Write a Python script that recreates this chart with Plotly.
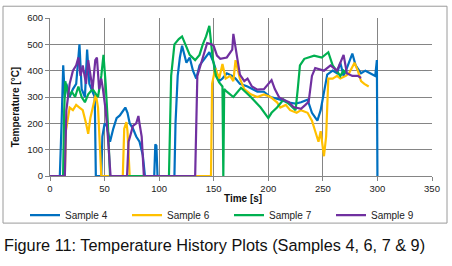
import plotly.graph_objects as go

# ---- data ----
t_s4 = [0, 9, 10.6, 12.1, 13.6, 15, 18, 21, 24, 27, 29, 32, 34, 36, 39, 41, 42, 47, 48, 50, 52, 55, 58, 61, 64, 67, 69, 71, 73, 76, 79, 82, 85, 87,
        95.5, 96.5, 97.5, 98.5, 114, 115, 117, 119, 121, 125, 128, 131, 134, 137, 142, 146, 150, 155, 158, 162, 167, 170, 174, 181, 190, 196, 202,
        211, 217, 225, 230, 236, 240, 243, 245, 248, 250, 254, 259, 263, 266, 269, 272, 277, 280, 285, 289, 294, 298, 299.5, 300]
temp_s4 = [0, 0, 200, 420, 300, 350, 300, 330, 350, 500, 330, 300, 480, 350, 320, 300, 0, 0, 150, 200, 190, 130, 180, 220, 230, 250, 260, 240, 200, 180, 150, 130, 80, 0,
           0, 120, 115, 0, 0, 200, 380, 450, 495, 430, 450, 400, 370, 420, 450, 470, 430, 360, 370, 390, 380, 370, 350, 340, 320, 320, 300,
           290, 280, 275, 280, 290, 240, 220, 210, 250, 300, 385, 400, 390, 430, 380, 410, 465, 420, 390, 400, 390, 380, 440, 0]

t_s6 = [0, 13.6, 14.5, 16.7, 18, 21, 24, 27, 30, 33, 35, 37, 39, 42, 44, 45, 47, 66.7, 68, 70, 71, 73, 147.5, 148.5, 151.5, 155, 158, 161, 165,
        168, 170, 174, 178, 184, 190, 196, 202, 208, 211, 216, 220, 226, 230, 236, 240, 243, 246, 248, 250, 251, 253, 255, 259, 263, 266,
        271, 274, 279, 282, 285, 288, 292]
temp_s6 = [0, 0, 170, 230, 260, 250, 270, 260, 250, 200, 160, 220, 260, 310, 260, 150, 0, 0, 180, 205, 170, 0, 0, 350, 410, 370, 425, 370, 380,
           360, 440, 370, 330, 310, 300, 310, 300, 280, 260, 270, 250, 240, 250, 240, 210, 170, 130, 170, 100, 75, 150, 370, 370, 380, 370,
           380, 390, 430, 400, 360, 350, 340]

t_s7 = [0, 12, 13, 14, 17, 20, 23, 26, 29, 32, 35, 39, 44, 47, 49, 51, 53, 55, 109, 111, 114, 118, 121, 124, 128, 133, 137, 140, 143, 146,
        149, 152, 155, 158, 158.8, 159.6, 162, 168, 175, 184, 193, 200, 203, 208, 214, 220, 225, 227, 229, 233, 242, 249, 255, 259, 263,
        266, 269, 271]
temp_s7 = [0, 0, 250, 360, 300, 320, 300, 340, 300, 280, 310, 330, 300, 380, 460, 350, 200, 0, 0, 380, 500, 520, 530, 500, 460, 440, 460, 500, 530, 570,
           450, 380, 355, 340, 0, 330, 320, 300, 335, 300, 260, 220, 240, 260, 290, 270, 250, 330, 420, 445, 457, 450, 470, 420, 395,
           380, 400, 390]

t_s9 = [0, 13.6, 15, 18, 21, 24, 26, 28, 30, 33, 35, 37, 39, 41.5, 43, 45, 47, 48.5, 51, 53, 54.5, 55.5, 70.6, 72, 74, 76, 79, 81, 82, 84, 86,
        133, 135, 138, 140, 144, 148, 150, 153, 156, 162, 167, 168, 171, 174, 178, 181, 185, 190, 196, 200, 203, 206, 210, 214, 219, 223,
        230, 234, 237, 240, 243, 251, 257, 263, 266, 269, 272, 277, 282, 285]
temp_s9 = [0, 0, 250, 350, 400, 420, 450, 380, 420, 350, 440, 380, 330, 440, 450, 330, 370, 330, 250, 150, 50, 0, 0, 130, 160, 190, 200, 228, 200, 150, 0,
           0, 380, 420, 450, 505, 500, 494, 457, 445, 450, 480, 540, 470, 385, 360, 370, 340, 328, 330, 350, 364, 330, 298, 290, 280, 262,
           255, 270, 282, 380, 410, 400, 420, 400, 430, 460, 390, 380, 380, 372]

series = [
    ("Sample 4", t_s4, temp_s4, "#0070C0"),
    ("Sample 6", t_s6, temp_s6, "#FFC000"),
    ("Sample 7", t_s7, temp_s7, "#00B050"),
    ("Sample 9", t_s9, temp_s9, "#7030A0"),
]

x_ticks = [0, 50, 100, 150, 200, 250, 300, 350]
y_ticks = [0, 100, 200, 300, 400, 500, 600]

FONT = "Liberation Sans, Arial, sans-serif"

fig = go.Figure()
for name, tx, ty, col in series:
    fig.add_trace(go.Scatter(x=tx, y=ty, mode="lines", name=name,
                             line=dict(color=col, width=2.2)))

W, H = 452, 266
ml, mr, mt, mb = 50, 20, 15, 90
pw, ph = W - ml - mr, H - mt - mb

def px(xp):
    return (xp - ml) / pw

def py(yp):
    return (H - mb - yp) / ph

fig.update_layout(
    width=W, height=H,
    margin=dict(l=ml, r=mr, t=mt, b=mb, pad=0),
    paper_bgcolor="white", plot_bgcolor="white",
    font=dict(family=FONT, size=9, color="#222222"),
    showlegend=True,
    legend=dict(orientation="h", x=px(25), y=py(201), xanchor="left", yanchor="top",
                entrywidth=57, entrywidthmode="pixels", itemwidth=30,
                font=dict(size=10, color="#222222"), bgcolor="rgba(0,0,0,0)",
                tracegroupgap=0),
    xaxis=dict(range=[0, 350], tickvals=x_ticks, ticktext=[str(v) for v in x_ticks],
               showgrid=True, gridcolor="#858585", gridwidth=1,
               showline=True, linecolor="#858585", linewidth=1, zeroline=False,
               ticks="outside", ticklen=4, tickcolor="#858585",
               tickfont=dict(size=9.5, color="#222222")),
    yaxis=dict(range=[0, 600], tickvals=y_ticks, ticktext=[str(v) for v in y_ticks],
               showgrid=True, gridcolor="#858585", gridwidth=1,
               showline=True, linecolor="#858585", linewidth=1, zeroline=False,
               ticks="outside", ticklen=4, tickcolor="#858585",
               tickfont=dict(size=9.5, color="#222222")),
)

# chart border
fig.add_shape(type="rect", xref="paper", yref="paper",
              x0=px(3), x1=px(447), y0=py(224), y1=py(3),
              line=dict(color="#9a9a9a", width=1), fillcolor="rgba(0,0,0,0)", layer="below")

# axis titles
fig.add_annotation(text="<b>Time [s]</b>", xref="paper", yref="paper",
                   x=px(243), y=py(199), showarrow=False, xanchor="center", yanchor="middle",
                   font=dict(size=10, color="#111111"))
fig.add_annotation(text="<b>Temperature [°C]</b>", xref="paper", yref="paper",
                   x=px(15), y=py(106), showarrow=False, xanchor="center", yanchor="middle",
                   textangle=-90, font=dict(size=10, color="#111111"))

# caption
fig.add_annotation(text="Figure 11: Temperature History Plots (Samples 4, 6, 7 & 9)",
                   xref="paper", yref="paper", x=px(2), y=py(246),
                   showarrow=False, xanchor="left", yanchor="middle",
                   font=dict(size=16.3, color="#111111"))

fig.write_html("out.html", config={"displayModeBar": False},
               post_script="document.body.style.margin='0';")
